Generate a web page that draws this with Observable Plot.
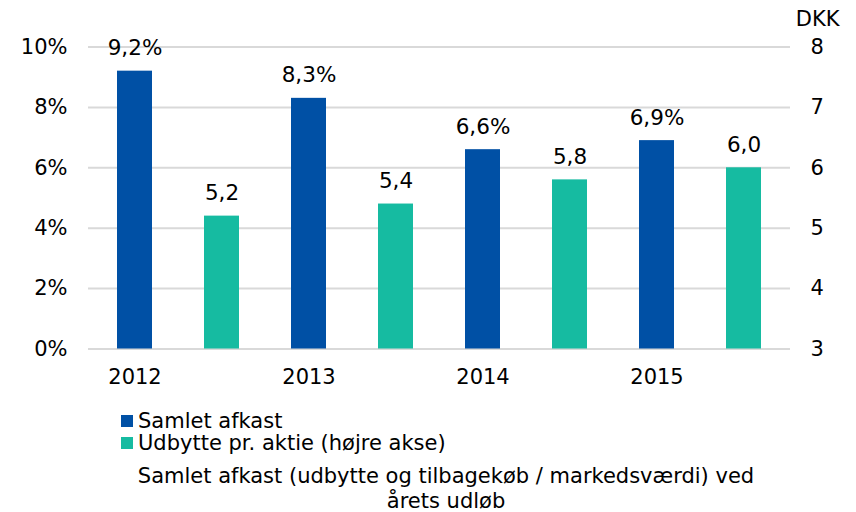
<!DOCTYPE html>
<html><head><meta charset="utf-8">
<script src="https://cdn.jsdelivr.net/npm/d3@7"></script>
<script src="https://cdn.jsdelivr.net/npm/@observablehq/plot@0.6"></script>
<style>
body{margin:0;background:#fff;font-family:"DejaVu Sans",Verdana,sans-serif;color:#000;width:856px}
#legend{margin:12px 0 0 121px;font-size:21px;line-height:22px}
#legend .item{display:flex;align-items:center;height:22px}
#legend .sw{width:12px;height:12px;margin-right:5px;flex:none}
#caption{margin-top:10px;padding-left:36px;width:820px;text-align:center;font-size:21px;line-height:24.5px}
#caption div{height:24.5px}
</style></head><body>
<div id="chart"></div>
<div id="legend"></div>
<div id="caption"><div>Samlet afkast (udbytte og tilbagekøb / markedsværdi) ved</div><div>årets udløb</div></div>
<script>
const years = ["2012", "2013", "2014", "2015"];
const samletAfkast = [9.2, 8.3, 6.6, 6.9];   // % (left axis)
const udbytte = [5.2, 5.4, 5.8, 6.0];        // DKK (right axis)
const leftTicks = [0, 2, 4, 6, 8, 10];
const rightTicks = [3, 4, 5, 6, 7, 8];
const rightUnit = "DKK";
const seriesNames = ["Samlet afkast", "Udbytte pr. aktie (højre akse)"];
const colors = ["#0050A5", "#16BBA1"];

const font = '"DejaVu Sans", Verdana, sans-serif';
const fmt1 = v => d3.format(".1f")(v).replace(".", ",");
// right axis 3..8 DKK mapped onto left scale 0..10 %
const dkkToPct = v => (v - 3) * 2;
const pctToDkk = p => p / 2 + 3;

const rows = [];
years.forEach((y, i) => {
  rows.push({key: y + "|a", year: y, series: seriesNames[0], value: samletAfkast[i], label: fmt1(samletAfkast[i]) + "%"});
  rows.push({key: y + "|b", year: y, series: seriesNames[1], value: dkkToPct(udbytte[i]), label: fmt1(udbytte[i])});
});

const chart = Plot.plot({
  width: 856, height: 398,
  marginLeft: 88, marginRight: 66, marginTop: 46.5, marginBottom: 49.5,
  style: {fontFamily: font, fontSize: "21px", color: "#000", background: "#fff"},
  x: {domain: rows.map(d => d.key), paddingInner: 0.6, paddingOuter: 0.3, axis: null},
  y: {domain: [0, 10], axis: null},
  color: {domain: seriesNames, range: colors},
  marks: [
    Plot.gridY(leftTicks, {stroke: "#d9d9d9", strokeOpacity: 1, strokeWidth: 2}),
    Plot.barY(rows, {x: "key", y: "value", fill: "series"}),
    Plot.text(rows, {x: "key", y: "value", text: "label", lineAnchor: "bottom", dy: -16, fontSize: 21.5, fill: "#000"}),
    Plot.axisY(leftTicks, {anchor: "left", tickSize: 0, tickPadding: 21, tickFormat: d => d + "%", label: null, fontSize: 21}),
    Plot.axisY(rightTicks.map(dkkToPct), {anchor: "right", tickSize: 0, tickPadding: 20, tickFormat: d => String(pctToDkk(d)), label: null, fontSize: 21}),
    Plot.text([rightUnit], {text: d => d, frameAnchor: "top-right", textAnchor: "end", lineAnchor: "middle", dx: 49, dy: -27.5, fontSize: 21, fill: "#000"}),
    Plot.axisX(rows.filter(d => d.key.endsWith("|a")).map(d => d.key), {tickSize: 0, tickPadding: 20, tickFormat: k => k.split("|")[0], label: null, fontSize: 21})
  ]
});
document.getElementById("chart").append(chart);

const legend = document.getElementById("legend");
seriesNames.forEach((name, i) => {
  const item = document.createElement("div");
  item.className = "item";
  const sw = document.createElement("span");
  sw.className = "sw";
  sw.style.background = colors[i];
  const t = document.createElement("span");
  t.textContent = name;
  item.append(sw, t);
  legend.append(item);
});
</script>
</body></html>
